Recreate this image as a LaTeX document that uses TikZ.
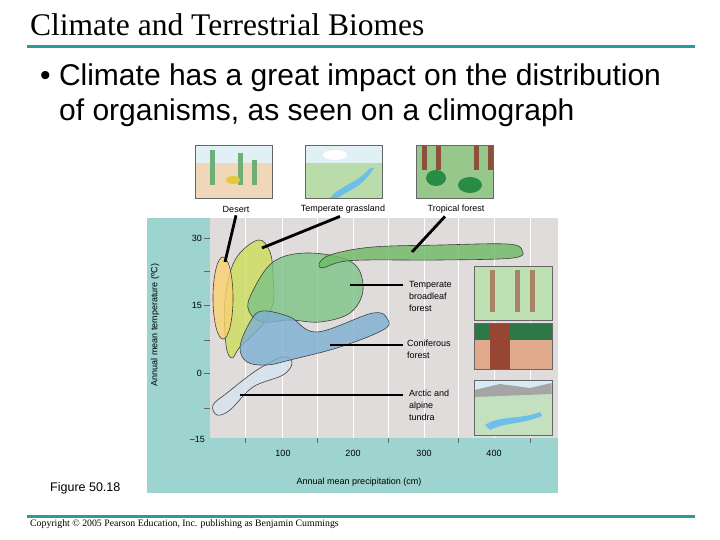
\documentclass[tikz,border=0pt]{standalone}
\usepackage{fontspec}
\setmainfont{Liberation Sans}
\newfontfamily\serifF{Liberation Serif}
\definecolor{teal1}{RGB}{42,157,154}
\definecolor{panel}{RGB}{158,212,208}
\definecolor{plotbg}{RGB}{224,220,220}
\definecolor{ctundra}{RGB}{215,228,240}
\definecolor{cgrass}{RGB}{205,221,90}
\definecolor{cdesert}{RGB}{250,210,110}
\definecolor{cbroad}{RGB}{125,195,135}
\definecolor{ctrop}{RGB}{110,185,100}
\definecolor{cconif}{RGB}{125,175,210}
\definecolor{sand}{RGB}{240,215,185}
\definecolor{sky}{RGB}{225,240,245}
\definecolor{cactus}{RGB}{110,175,120}
\definecolor{flower}{RGB}{230,200,60}
\definecolor{grassf}{RGB}{185,220,170}
\definecolor{water}{RGB}{110,190,235}
\definecolor{tropf}{RGB}{150,200,140}
\definecolor{trunk}{RGB}{140,80,60}
\definecolor{dgreen}{RGB}{40,140,70}
\definecolor{broadf}{RGB}{190,225,180}
\definecolor{btrunk}{RGB}{170,130,100}
\definecolor{conf}{RGB}{225,170,140}
\definecolor{conif2}{RGB}{45,120,70}
\definecolor{redw}{RGB}{150,70,50}
\definecolor{tundf}{RGB}{195,225,190}
\definecolor{tsky}{RGB}{215,235,245}
\definecolor{mount}{RGB}{165,165,165}
\begin{document}
\begin{tikzpicture}[x=1pt,y=-1pt,
  blob/.style={draw=black!75,line width=0.6pt,fill opacity=0.8},
  pointer/.style={line width=2.8pt,black},
  lab/.style={font=\fontsize{9}{12}\selectfont,align=left,anchor=north west,inner sep=0pt},
  tick/.style={font=\fontsize{9}{10}\selectfont,inner sep=0pt},
  pic/.style={draw=black!60,line width=0.6pt}]
\useasboundingbox (0,0) rectangle (720,540);
% title
\node[anchor=west,inner sep=0pt,font=\serifF\fontsize{31.5}{34}\selectfont] (title) at (30,25) {Climate and Terrestrial Biomes};
\draw[line width=3pt,teal1] (27,47) -- (695,47);
\node[anchor=west,inner sep=0pt,font=\fontsize{30}{32}\selectfont] (b1) at (40,78) {\textbullet\ Climate has a great impact on the distribution};
\node[anchor=west,inner sep=0pt,font=\fontsize{30}{32}\selectfont] (b2) at (59,113) {of organisms, as seen on a climograph};
% panel
\fill[panel] (147,218) rectangle (558,493);
\fill[plotbg] (210,218) rectangle (558,438);
\foreach \x in {245,282,317,353,388,424,458,494,530} \draw[white,line width=0.5pt] (\x,218) -- (\x,438);
\foreach \x in {245,317,388,458,530} \draw[black!60] (\x,438) -- (\x,443);
\foreach \y in {238,271,305,340,373,408} \draw[black!60] (204,\y) -- (210,\y);
\node[tick,anchor=east] (t30) at (202,238) {30};
\node[tick,anchor=east] (t15) at (202,305) {15};
\node[tick,anchor=east] (t0) at (202,373) {0};
\node[tick,anchor=east] (tm15) at (205,439) {–15};
\node[tick] (x100) at (283,453) {100};
\node[tick] (x200) at (353,453) {200};
\node[tick] (x300) at (424,453) {300};
\node[tick] (x400) at (494,453) {400};
\node[tick] (xl) at (359,482) {Annual mean precipitation (cm)};
\node[tick,rotate=90] (yl) at (155,325) {Annual mean temperature (ºC)};
% blobs
\path[blob,fill=ctundra] plot[smooth cycle,tension=0.6] coordinates {(217,415)(213,405)(227,393)(257,370)(283,357)(292,363)(283,375)(253,387)(230,410)};
\path[blob,fill=cgrass] plot[smooth cycle,tension=0.6] coordinates {(258,240)(270,252)(273,275)(273,303)(262,325)(240,347)(232,358)(226,345)(225,300)(235,260)};
\path[blob,fill=cdesert] (223,298) ellipse (10 and 41);
\path[blob,fill=cbroad] plot[smooth cycle,tension=0.6] coordinates {(250,297)(273,262)(310,253)(353,263)(363,290)(350,313)(320,322)(290,320)(263,322)(250,313)};
\path[blob,fill=ctrop] plot[smooth cycle,tension=0.6] coordinates {(320,262)(333,254)(373,247)(440,245)(507,244)(522,250)(513,258)(440,260)(367,260)(340,262)(322,268)};
\path[blob,fill=cconif] plot[smooth cycle,tension=0.6] coordinates {(240,347)(250,322)(262,311)(290,317)(317,332)(373,313)(388,320)(383,330)(340,347)(290,360)(267,365)(247,362)};
% pictures
\node[pic,minimum width=77,minimum height=53,fill=sand] (pd) at (233.5,171.5) {};
\fill[sky] (195.5,145.5) rectangle (271.5,163);
\foreach \x/\h in {212/150,240/153,254/160} \fill[cactus] (\x-2.5,185) rectangle (\x+2.5,\h);
\fill[flower] (233,180) ellipse (7 and 4);
\node[pic,minimum width=77,minimum height=53] (pd2) at (233.5,171.5) {};
\node[pic,minimum width=77,minimum height=53,fill=grassf] (pg) at (344,171.5) {};
\fill[sky] (305.5,145.5) rectangle (382.5,163);
\fill[white] (335,155) ellipse (12 and 5);
\fill[water] (330,198) .. controls (340,185) and (355,185) .. (370,168) -- (374,168) .. controls (362,188) and (348,190) .. (338,198) -- cycle;
\node[pic,minimum width=77,minimum height=53] (pg2) at (344,171.5) {};
\node[pic,minimum width=77,minimum height=53,fill=tropf] (pt) at (454.5,171.5) {};
\foreach \x in {422,436,474,488} \fill[trunk] (\x,145.5) rectangle (\x+5,170);
\fill[dgreen] (436,178) ellipse (10 and 8);
\fill[dgreen] (470,185) ellipse (12 and 8);
\node[pic,minimum width=77,minimum height=53] (pt2) at (454.5,171.5) {};
\node[pic,minimum width=78,minimum height=54,fill=broadf] (pb) at (513,293) {};
\foreach \x in {490,515,530} \fill[btrunk] (\x,270) rectangle (\x+5,312);
\node[pic,minimum width=78,minimum height=54] (pb2) at (513,293) {};
\node[pic,minimum width=78,minimum height=46,fill=conf] (pc) at (513,346) {};
\fill[conif2] (474.5,323.5) rectangle (551.5,340);
\fill[redw] (490,323.5) rectangle (510,369);
\node[pic,minimum width=78,minimum height=46] (pc2) at (513,346) {};
\node[pic,minimum width=78,minimum height=55,fill=tundf] (pa) at (513,407.5) {};
\fill[tsky] (474.5,380.5) rectangle (551.5,390);
\fill[mount] (474.5,390) -- (500,384) -- (530,388) -- (551.5,383) -- (551.5,394) -- (474.5,397) -- cycle;
\fill[water] (485,425) .. controls (500,415) and (520,420) .. (540,412) -- (542,416) .. controls (520,425) and (505,422) .. (490,430) -- cycle;
\node[pic,minimum width=78,minimum height=55] (pa2) at (513,407.5) {};
% labels
\node[tick] (ld) at (236,209) {Desert};
\node[tick] (lg) at (343,209) {Temperate grassland};
\node[tick] (lt) at (456,209) {Tropical forest};
\node[lab] (lb) at (409,281) {Temperate\\broadleaf\\forest};
\node[lab] (lc) at (407,340) {Coniferous\\forest};
\node[lab] (la) at (409,390) {Arctic and\\alpine\\tundra};
% pointers
\coordinate (ed) at (225,262); \coordinate (eg) at (262,248); \coordinate (et) at (412,252);
\coordinate (eb) at (350,285); \coordinate (ec) at (330,345); \coordinate (ea) at (240,395);
\draw[pointer] (ld.south) ++(0,3) -- (ed);
\draw[pointer] (lg.south) ++(-3,3) -- (eg);
\draw[pointer] (lt.south) ++(-11,3) -- (et);
\draw[pointer] (lb.west |- eb) ++(-6,0) -- (eb);
\draw[pointer] (lc.west |- ec) ++(-4,0) -- (ec);
\draw[pointer] (la.west |- ea) ++(-6,0) -- (ea);
% figure + footer
\node[anchor=west,inner sep=0pt,font=\fontsize{12.5}{14}\selectfont] (fig) at (50,488) {Figure 50.18};
\draw[line width=3pt,teal1] (27,516) -- (695,516);
\node[anchor=west,inner sep=0pt,font=\serifF\fontsize{9.8}{11}\selectfont] (copy) at (30,524) {Copyright © 2005 Pearson Education, Inc. publishing as Benjamin Cummings};
\end{tikzpicture}
\end{document}
